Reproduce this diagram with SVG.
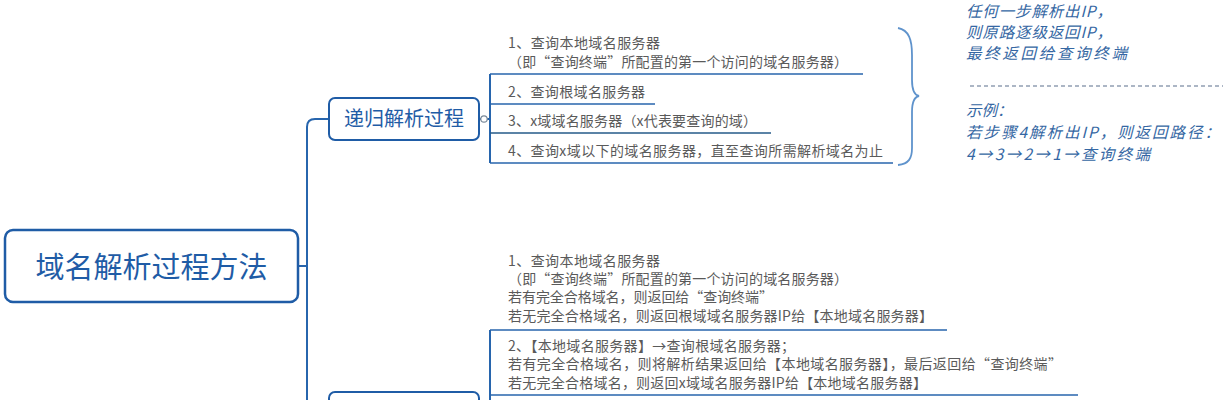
<svg xmlns="http://www.w3.org/2000/svg" width="1227" height="400" viewBox="0 0 1227 400">
<defs>
<style>
.box{fill:#ffffff;stroke:#1f5ca6;stroke-width:2.5}
.ttl{font-family:"Noto Sans CJK SC","Microsoft YaHei",sans-serif;fill:#1f5ca6;text-anchor:middle}
.line{fill:none;stroke:#2765ad;stroke-width:2}
.ul{fill:none;stroke:#2765ad;stroke-width:1.6}
.item{font-family:"Noto Sans CJK SC",sans-serif;font-size:14px;fill:#5a5a5a}
.note{font-family:"Noto Sans CJK SC",sans-serif;font-size:15.5px;font-style:italic;fill:#3567a3}
</style>
</defs>
<rect width="1227" height="400" fill="#ffffff"/>
<g id="connectors">
<path class="line" d="M298,266 H307"/>
<path class="line" d="M329,119 H315 Q307,119 307,127 V402"/>
<path class="line" d="M480,119 H490"/>
<path class="line" d="M490,74 V163"/>
<path class="ul" d="M490,74 H863"/>
<path class="ul" d="M490,104 H655"/>
<path class="ul" d="M490,133 H771" style="stroke:#255a88"/>
<path class="ul" d="M490,163 H893"/>
<path class="line" d="M490,330 V402"/>
<path class="ul" d="M490,330 H947"/>
<path class="ul" d="M490,395 H1078"/>
<circle cx="484" cy="119" r="3.2" fill="#ffffff" stroke="#7a8a9a" stroke-width="1.2"/>
</g>
<g id="root">
<rect class="box" x="5" y="230" width="293" height="72" rx="8"/>
<text class="ttl" x="151.5" y="278" font-size="29">域名解析过程方法</text>
</g>
<g id="recursive">
<rect class="box" x="329" y="98" width="150" height="42" rx="6" style="stroke-width:2"/>
<text class="ttl" x="404" y="126" font-size="20">递归解析过程</text>
</g>
<g id="iterative">
<rect class="box" x="329" y="392" width="150" height="42" rx="6" style="stroke-width:2"/>
</g>
<g id="r1">
<text class="item" x="508" y="48" textLength="152">1、查询本地域名服务器</text>
<text class="item" x="508" y="67" textLength="340">（即“查询终端”所配置的第一个访问的域名服务器）</text>
</g>
<g id="r2"><text class="item" x="508" y="97" textLength="137">2、查询根域名服务器</text></g>
<g id="r3"><text class="item" x="508" y="126" textLength="249">3、x域域名服务器（x代表要查询的域）</text></g>
<g id="r4"><text class="item" x="508" y="156" textLength="375">4、查询x域以下的域名服务器，直至查询所需解析域名为止</text></g>
<g id="brace">
<path d="M898,28 C909,30 912,40 912,55 L912,80 C912,90 914,95 919,96 C914,97 912,102 912,112 L912,148 C912,158 909,164 898,165" fill="none" stroke="#5f93cc" stroke-width="1.8"/>
</g>
<g id="note">
<text class="note" x="966" y="17" textLength="146">任何一步解析出IP，</text>
<text class="note" x="966" y="38" textLength="146">则原路逐级返回IP，</text>
<text class="note" x="966" y="59" textLength="161">最终返回给查询终端</text>
<path d="M970,86 H1223" stroke="#5a6f8c" stroke-width="1.2" stroke-dasharray="4,3"/>
<text class="note" x="966" y="116">示例：</text>
<text class="note" x="966" y="138" textLength="254">若步骤4解析出IP，则返回路径：</text>
<text class="note" x="966" y="160" textLength="184">4→3→2→1→查询终端</text>
</g>
<g id="i1">
<text class="item" x="508" y="266" textLength="152">1、查询本地域名服务器</text>
<text class="item" x="508" y="284" textLength="340">（即“查询终端”所配置的第一个访问的域名服务器）</text>
<text class="item" x="508" y="302" textLength="265">若有完全合格域名，则返回给“查询终端”</text>
<text class="item" x="508" y="321" textLength="425">若无完全合格域名，则返回根域域名服务器IP给【本地域名服务器】</text>
</g>
<g id="i2">
<text class="item" x="508" y="351" textLength="287">2、【本地域名服务器】→查询根域名服务器；</text>
<text class="item" x="508" y="369" textLength="554">若有完全合格域名，则将解析结果返回给【本地域名服务器】，最后返回给“查询终端”</text>
<text class="item" x="508" y="388" textLength="419">若无完全合格域名，则返回x域域名服务器IP给【本地域名服务器】</text>
</g>
</svg>
